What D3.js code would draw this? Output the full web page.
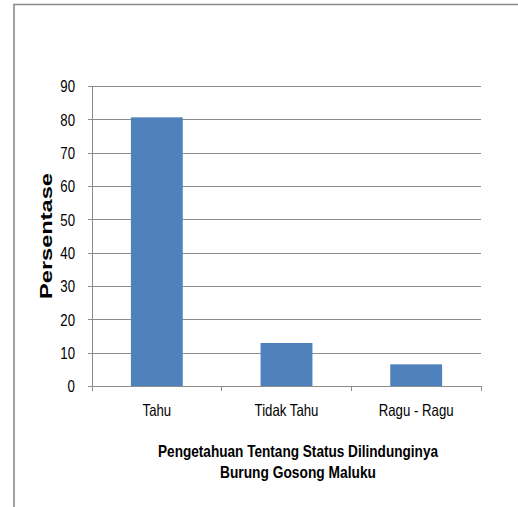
<!DOCTYPE html>
<html>
<head>
<meta charset="utf-8">
<script src="https://cdn.jsdelivr.net/npm/d3@7"></script>
<style>
  html, body { margin: 0; padding: 0; background: #fff; }
  svg { display: block; }
</style>
</head>
<body>
<svg id="chart" width="518" height="507"></svg>
<script>
// Survey responses: knowledge of the protected status of the Moluccan megapode
const categories = ["Tahu", "Tidak Tahu", "Ragu - Ragu"];
const values = [80.6, 12.9, 6.5];
const yTicks = [0, 10, 20, 30, 40, 50, 60, 70, 80, 90];
const yTitle = "Persentase";
const xTitleLines = ["Pengetahuan Tentang Status Dilindunginya", "Burung Gosong Maluku"];

const svg = d3.select("#chart");
const sans = "'Liberation Sans', Arial, sans-serif";
const gridColor = "#8c8c8c";

// condensed look: squeeze glyphs horizontally around their anchor
function condense(sel, factor) {
  sel.each(function () {
    const w = this.getComputedTextLength();
    this.setAttribute("textLength", (w * factor).toFixed(1));
    this.setAttribute("lengthAdjust", "spacingAndGlyphs");
  });
}

// outer chart frame (runs off the right and bottom edges)
svg.append("path")
  .attr("d", "M14,520 L14,4.5 L530,4.5")
  .attr("fill", "none")
  .attr("stroke", "#8a8a8a")
  .attr("stroke-width", 1.6);

const plot = { left: 92, right: 481, top: 86, bottom: 386 };

const x = d3.scaleBand()
  .domain(categories)
  .range([plot.left, plot.right])
  .paddingInner(0.6)
  .paddingOuter(0.3);

const y = d3.scaleLinear()
  .domain([0, 90])
  .range([plot.bottom, plot.top]);

// horizontal gridlines with left tick marks
const yAxis = d3.axisLeft(y)
  .tickValues(yTicks)
  .tickSize(-(plot.right - plot.left))
  .tickSizeOuter(0);

const gy = svg.append("g")
  .attr("transform", `translate(${plot.left},0)`)
  .call(yAxis);
gy.select(".domain").remove();
gy.selectAll(".tick line")
  .attr("x1", -4)
  .attr("stroke", gridColor)
  .attr("stroke-width", 1)
  .attr("shape-rendering", "crispEdges");
gy.selectAll(".tick text")
  .attr("font-family", sans)
  .attr("font-size", 16.5)
  .attr("fill", "#000")
  .attr("dy", "0.36em")
  .attr("x", -17)
  .call(condense, 0.8);

// vertical axis line
svg.append("line")
  .attr("x1", plot.left).attr("x2", plot.left)
  .attr("y1", plot.top).attr("y2", plot.bottom)
  .attr("stroke", gridColor)
  .attr("shape-rendering", "crispEdges");

// bars
svg.append("g")
  .selectAll("rect")
  .data(values)
  .join("rect")
  .attr("x", (d, i) => x(categories[i]))
  .attr("width", x.bandwidth())
  .attr("y", d => y(d))
  .attr("height", d => y(0) - y(d))
  .attr("fill", "#4f81bd");

// category axis with ticks at category boundaries
const gx = svg.append("g")
  .attr("transform", `translate(0,${plot.bottom})`);
gx.append("line")
  .attr("x1", plot.left).attr("x2", plot.right)
  .attr("stroke", gridColor)
  .attr("shape-rendering", "crispEdges");
const step = (plot.right - plot.left) / categories.length;
gx.selectAll("line.sep")
  .data(d3.range(categories.length + 1))
  .join("line")
  .attr("class", "sep")
  .attr("x1", i => plot.left + i * step)
  .attr("x2", i => plot.left + i * step)
  .attr("y1", 0).attr("y2", 5)
  .attr("stroke", gridColor)
  .attr("shape-rendering", "crispEdges");
gx.selectAll("text")
  .data(categories)
  .join("text")
  .attr("x", d => x(d) + x.bandwidth() / 2)
  .attr("y", 30)
  .attr("text-anchor", "middle")
  .attr("font-family", sans)
  .attr("font-size", 16.5)
  .attr("fill", "#000")
  .text(d => d)
  .call(condense, 0.8);

// y axis title
svg.append("text")
  .attr("transform", "translate(52,236) rotate(-90)")
  .attr("text-anchor", "middle")
  .attr("font-family", sans)
  .attr("font-weight", "bold")
  .attr("font-size", 17)
  .attr("textLength", 126)
  .attr("lengthAdjust", "spacingAndGlyphs")
  .attr("fill", "#000")
  .text(yTitle);

// x axis title
const titleWidths = [280, 156];
svg.append("g")
  .selectAll("text")
  .data(xTitleLines)
  .join("text")
  .attr("x", 298)
  .attr("y", (d, i) => 457 + i * 21)
  .attr("text-anchor", "middle")
  .attr("font-family", sans)
  .attr("font-weight", "bold")
  .attr("font-size", 16.5)
  .attr("textLength", (d, i) => titleWidths[i])
  .attr("lengthAdjust", "spacingAndGlyphs")
  .attr("fill", "#000")
  .text(d => d);
</script>
</body>
</html>
